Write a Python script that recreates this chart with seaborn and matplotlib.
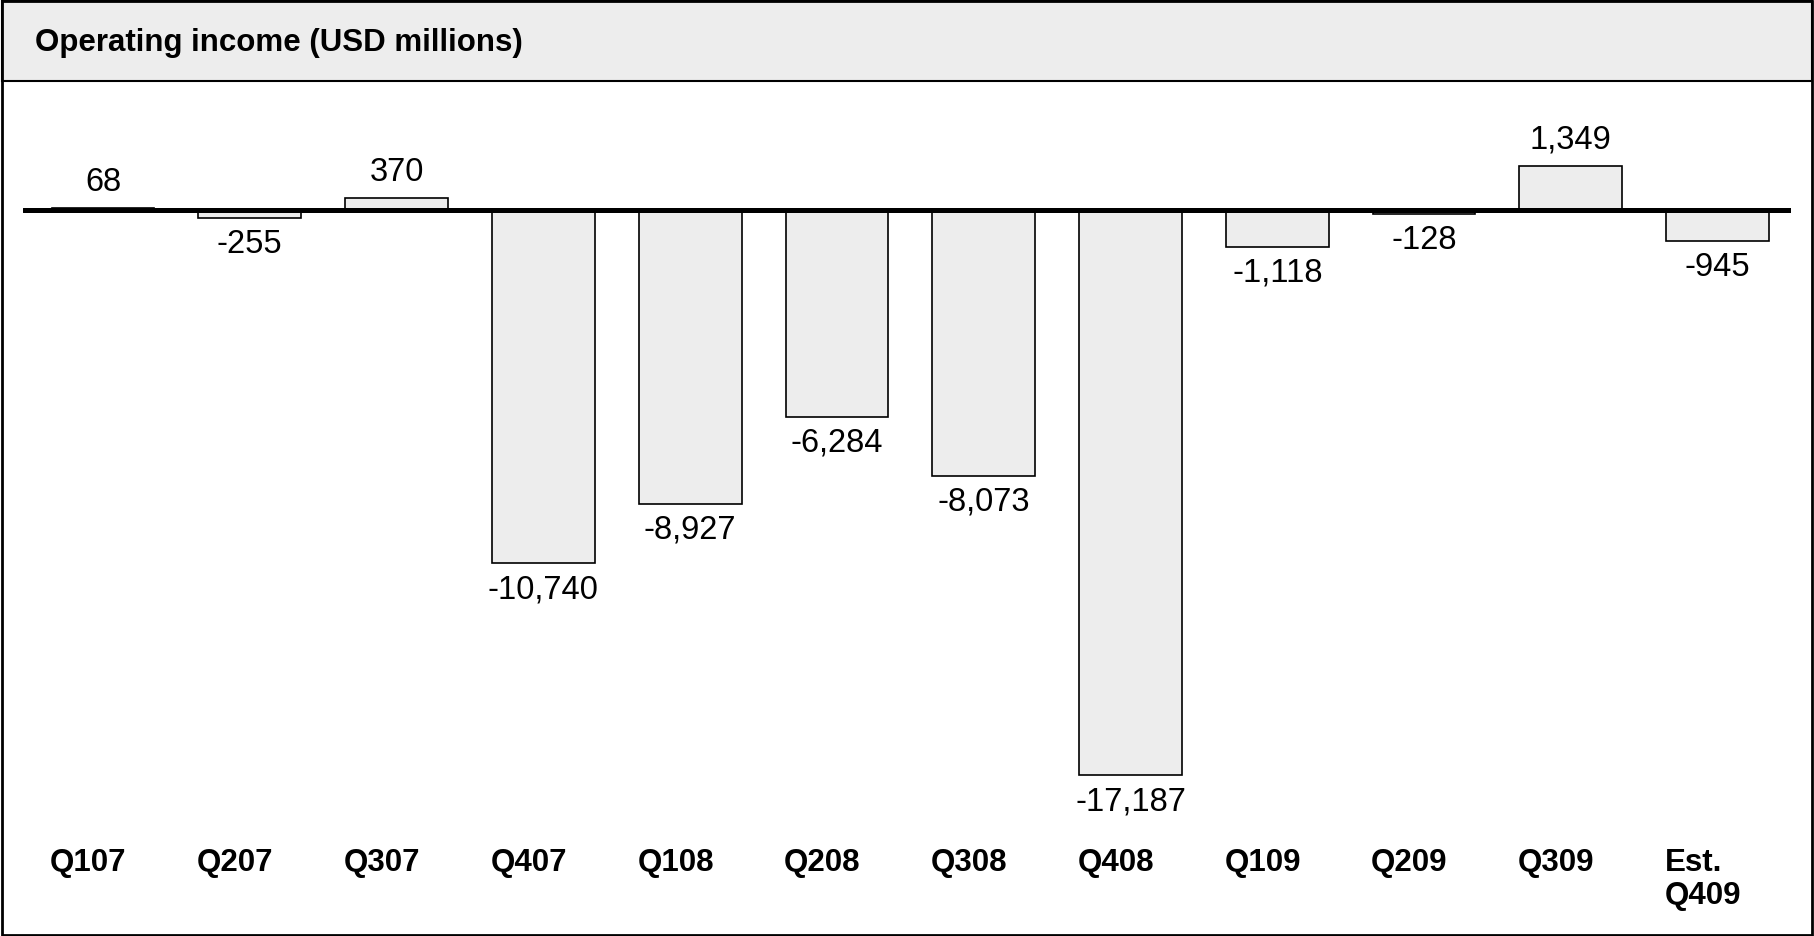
import matplotlib
matplotlib.use("Agg")
import matplotlib.pyplot as plt
import matplotlib.patches as mpatches
import matplotlib.transforms as mtransforms
import pandas as pd
import seaborn as sns

# === Data ===
quarters = ["Q107", "Q207", "Q307", "Q407", "Q108", "Q208", "Q308", "Q408",
            "Q109", "Q209", "Q309", "Est.\nQ409"]
operating_income = [68, -255, 370, -10740, -8927, -6284, -8073, -17187,
                    -1118, -128, 1349, -945]
title = "Operating income (USD millions)"

df = pd.DataFrame({"quarter": quarters, "income": operating_income})

# === Setup ===
sns.set_style("white")
plt.rcParams["font.family"] = ["Liberation Sans", "DejaVu Sans"]
plt.rcParams["text.color"] = "black"

W, H = 1814, 937
fig = plt.figure(figsize=(W / 100, H / 100), dpi=100)

header_px = 82
zero_px = 211          # zero line, pixels from top
px_per_unit = 0.0329   # vertical scale

ax = fig.add_axes([23 / W, 0, (1791 - 23) / W, (H - header_px) / H])
top_val = (zero_px - header_px) / px_per_unit
bottom_val = -(H - zero_px) / px_per_unit

sns.barplot(data=df, x="quarter", y="income", ax=ax, color="#ededed",
            edgecolor="black", linewidth=1.2, width=0.70, saturation=1)
ax.set_ylim(bottom_val, top_val)
ax.set_xlim(-0.545, 11.5)
ax.axhline(0, color="black", lw=3.6, zorder=5, solid_capstyle="round")
ax.set_axis_off()

# value labels
for i, v in enumerate(operating_income):
    if v >= 0:
        ax.annotate(f"{v:,}", (i, v), xytext=(0, 8), textcoords="offset points",
                    ha="center", va="bottom", fontsize=23.5, color="black")
    else:
        ax.annotate(f"{v:,}", (i, v), xytext=(0, -7), textcoords="offset points",
                    ha="center", va="top", fontsize=23.5, color="black")

# category labels, left aligned at bar edge
trans = mtransforms.blended_transform_factory(ax.transData, fig.transFigure)
for i, q in enumerate(quarters):
    ax.text(i - 0.36, 1 - 848 / H, q, transform=trans, ha="left", va="top",
            fontsize=22.5, fontweight="bold", linespacing=1.15, color="black")

# header band + frame
fig.patches.append(mpatches.Rectangle((0.001, 1 - header_px / H), 0.998, header_px / H - 0.002,
                                      transform=fig.transFigure, facecolor="#ededed",
                                      edgecolor="black", linewidth=1.5, zorder=0))
fig.patches.append(mpatches.Rectangle((0.001, 0.001), 0.998, 0.997,
                                      transform=fig.transFigure, facecolor="none",
                                      edgecolor="black", linewidth=2, zorder=10))
fig.text(35 / W, 1 - 43 / H, title, ha="left", va="center",
         fontsize=22.5, fontweight="bold", color="black")

fig.savefig("out.png", dpi=100)
